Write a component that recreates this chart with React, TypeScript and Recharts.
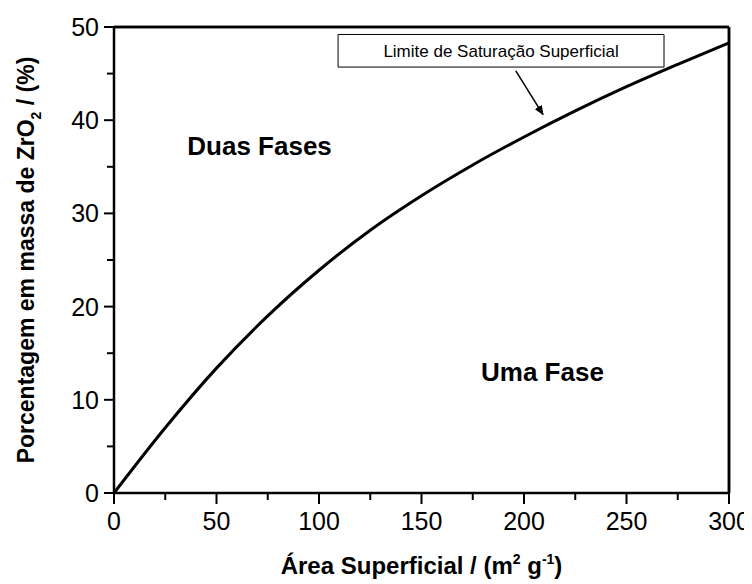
import React from 'react';
import { LineChart, Line, XAxis, YAxis, ReferenceArea, ReferenceLine, Label } from 'recharts';

const areaValues = [0, 25, 50, 75, 100, 125, 150, 175, 200, 225, 250, 275, 300];
const massValues = [0, 7.0, 13.4, 19.0, 23.9, 28.2, 31.9, 35.2, 38.2, 41.0, 43.6, 46.0, 48.3];
const xTicks = [0, 25, 50, 75, 100, 125, 150, 175, 200, 225, 250, 275, 300];
const yTicks = [0, 5, 10, 15, 20, 25, 30, 35, 40, 45, 50];
const data = areaValues.map((a, i) => ({ a, m: massValues[i] }));
const FONT = 'Liberation Sans, Arial, sans-serif';

const XTick = (p: any) => {
  const major = p.payload.value % 50 === 0;
  const ay = p.y - 8;
  return (
    <g>
      <line x1={p.x} x2={p.x} y1={ay} y2={ay + (major ? 11 : 7)} stroke="#000" strokeWidth={2} />
      {major && <text x={p.x} y={ay + 37} textAnchor="middle" fontSize={25} fontFamily={FONT} fill="#000">{p.payload.value}</text>}
    </g>
  );
};
const YTick = (p: any) => {
  const major = p.payload.value % 10 === 0;
  const ax = p.x + 8;
  return (
    <g>
      <line x1={ax} x2={ax - (major ? 10 : 7)} y1={p.y} y2={p.y} stroke="#000" strokeWidth={2} />
      {major && <text x={ax - 15} y={p.y + 9} textAnchor="end" fontSize={25} fontFamily={FONT} fill="#000">{p.payload.value}</text>}
    </g>
  );
};

export default function App() {
  return (
    <LineChart width={744} height={576} data={data} margin={{ top: 17, right: 21, bottom: 0, left: 0 }}>
      <defs>
        <marker id="arr" markerWidth="10" markerHeight="8" refX="9" refY="4" orient="auto" markerUnits="userSpaceOnUse">
          <path d="M0,0 L10,4 L0,8 Z" fill="#000" />
        </marker>
      </defs>
      <XAxis dataKey="a" type="number" domain={[0, 300]} ticks={xTicks} interval={0} tickLine={false} tick={<XTick />}
        axisLine={{ stroke: '#000', strokeWidth: 2.5 }} height={91} allowDataOverflow>
        <Label content={(p: any) => {
          const vb = p.viewBox;
          return (
            <text x={vb.x + vb.width / 2} y={vb.y + 81} textAnchor="middle" fontSize={24} fontWeight="bold" fontFamily={FONT} fill="#000">
              Área Superficial / (m<tspan dy={-10} fontSize={14}>2</tspan><tspan dy={10}> g</tspan><tspan dy={-10} fontSize={14}>-1</tspan><tspan dy={10}>)</tspan>
            </text>
          );
        }} />
      </XAxis>
      <XAxis xAxisId="top" orientation="top" dataKey="a" type="number" domain={[0, 300]} tick={false} tickLine={false}
        axisLine={{ stroke: '#000', strokeWidth: 2.5 }} height={2} />
      <YAxis type="number" domain={[0, 50]} ticks={yTicks} interval={0} tickLine={false} tick={<YTick />}
        axisLine={{ stroke: '#000', strokeWidth: 2.5 }} width={106}>
        <Label content={(p: any) => {
          const vb = p.viewBox;
          const cy = vb.y + vb.height / 2;
          return (
            <text x={26} y={cy} transform={`rotate(-90 26 ${cy})`} textAnchor="middle" fontSize={23} fontWeight="bold" fontFamily={FONT} fill="#000">
              Porcentagem em massa de ZrO<tspan dy={7} fontSize={14}>2</tspan><tspan dy={-7}> / (%)</tspan>
            </text>
          );
        }} />
      </YAxis>
      <YAxis yAxisId="right" orientation="right" type="number" domain={[0, 50]} tick={false} tickLine={false}
        axisLine={{ stroke: '#000', strokeWidth: 2.5 }} width={2} />
      <ReferenceLine y={50} stroke="#000" strokeWidth={2.5} ifOverflow="visible" />
      <ReferenceLine x={300} stroke="#000" strokeWidth={2.5} ifOverflow="visible" />
      <Line dataKey="m" type="monotone" stroke="#000" strokeWidth={3} dot={false} isAnimationActive={false} />
      <ReferenceArea x1={109.3} x2={268.3} y1={45.7} y2={49.2} ifOverflow="visible" fill="#fff" fillOpacity={1} stroke="#000" strokeWidth={1}>
        <Label position="center" fontSize={17} fontFamily={FONT} fill="#000">Limite de Saturação Superficial</Label>
      </ReferenceArea>
      <ReferenceLine segment={[{ x: 196, y: 45.3 }, { x: 209.3, y: 40.6 }]} stroke="#000" strokeWidth={1.5} markerEnd="url(#arr)" ifOverflow="visible" />
      <ReferenceArea x1={51} x2={91} y1={35.5} y2={39} fillOpacity={0} strokeOpacity={0}>
        <Label position="center" fontSize={26} fontWeight="bold" fontFamily={FONT} fill="#000">Duas Fases</Label>
      </ReferenceArea>
      <ReferenceArea x1={189} x2={229} y1={11.3} y2={14.8} fillOpacity={0} strokeOpacity={0}>
        <Label position="center" fontSize={26} fontWeight="bold" fontFamily={FONT} fill="#000">Uma Fase</Label>
      </ReferenceArea>
    </LineChart>
  );
}
